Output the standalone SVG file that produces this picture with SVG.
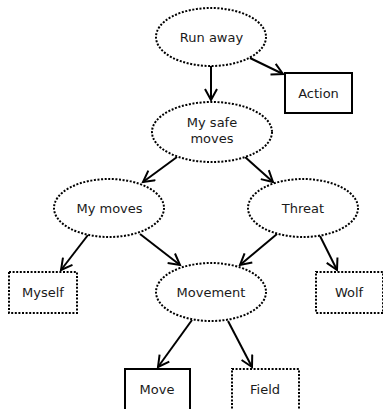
<svg xmlns="http://www.w3.org/2000/svg" width="383" height="409" viewBox="0 0 383 409">
<defs>
<style>
.dot{fill:#fff;stroke:#000;stroke-width:2;stroke-dasharray:2 1.6}
.solid{fill:#fff;stroke:#000;stroke-width:2}
.lbl{font-family:"DejaVu Sans",sans-serif;font-size:13px;fill:#1a1a1a;text-anchor:middle}
.edge{fill:none;stroke:#000;stroke-width:2;marker-end:url(#ah)}
</style>
<marker id="ah" markerUnits="userSpaceOnUse" markerWidth="14" markerHeight="14" viewBox="-12 -7 14 14" refX="0" refY="0" orient="auto">
<path d="M-11,-6 L0,0 L-11,6" fill="none" stroke="#000" stroke-width="2"/>
</marker>
</defs>
<rect width="383" height="409" fill="#fff"/>
<g id="edges">
<path class="edge" d="M211,66 L211,100"/>
<path class="edge" d="M250,58 L283,74"/>
<path class="edge" d="M177,157 L143,182"/>
<path class="edge" d="M245,157 L273,182"/>
<path class="edge" d="M88,235 L61,270"/>
<path class="edge" d="M140,234 L180,265"/>
<path class="edge" d="M277,234 L240,265"/>
<path class="edge" d="M320,236 L337,270"/>
<path class="edge" d="M192,320 L158,367"/>
<path class="edge" d="M228,321 L252,367"/>
</g>
<g id="runaway">
<ellipse class="dot" cx="211" cy="37" rx="55" ry="29"/>
<text class="lbl" x="211.5" y="42">Run away</text>
</g>
<g id="action">
<rect class="solid" x="285" y="73" width="67" height="40"/>
<text class="lbl" x="318.5" y="98">Action</text>
</g>
<g id="mysafemoves">
<ellipse class="dot" cx="212" cy="132" rx="60" ry="30"/>
<text class="lbl" x="212" y="127">My safe</text>
<text class="lbl" x="212" y="143">moves</text>
</g>
<g id="mymoves">
<ellipse class="dot" cx="109" cy="208" rx="55" ry="29"/>
<text class="lbl" x="109.5" y="213">My moves</text>
</g>
<g id="threat">
<ellipse class="dot" cx="303" cy="208" rx="55" ry="29"/>
<text class="lbl" x="303" y="213">Threat</text>
</g>
<g id="myself">
<rect class="dot" x="9" y="272" width="68" height="41"/>
<text class="lbl" x="43" y="297">Myself</text>
</g>
<g id="movement">
<ellipse class="dot" cx="211" cy="292" rx="55" ry="29"/>
<text class="lbl" x="211" y="297">Movement</text>
</g>
<g id="wolf">
<rect class="dot" x="316" y="272" width="67" height="41"/>
<text class="lbl" x="349" y="297">Wolf</text>
</g>
<g id="move">
<rect class="solid" x="125" y="369" width="65" height="50"/>
<text class="lbl" x="157" y="394">Move</text>
</g>
<g id="field">
<rect class="dot" x="232" y="369" width="67" height="50"/>
<text class="lbl" x="265" y="394">Field</text>
</g>
</svg>
